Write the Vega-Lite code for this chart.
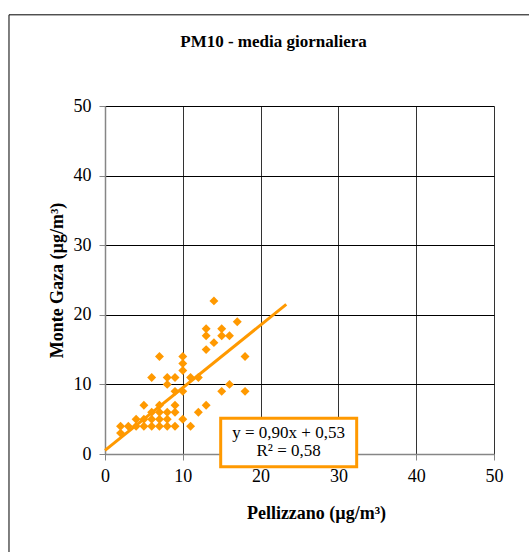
{
  "$schema": "https://vega.github.io/schema/vega-lite/v6.json",
  "width": 389,
  "height": 348,
  "autosize": {"type": "none"},
  "padding": {"left": 105, "top": 106, "right": 35, "bottom": 98},
  "background": "white",
  "title": {
    "text": "PM10 - media giornaliera",
    "font": "Liberation Serif",
    "fontSize": 17,
    "fontWeight": "bold",
    "color": "black",
    "anchor": "middle",
    "dx": -26,
    "offset": -37
  },
  "config": {
    "view": {"stroke": null},
    "axis": {
      "labelFont": "Liberation Serif",
      "labelFontSize": 18,
      "labelColor": "black",
      "labelFlush": false,
      "titleFont": "Liberation Serif",
      "titleFontSize": 18,
      "titleFontWeight": "bold",
      "titleColor": "black",
      "domainColor": "#868686",
      "domainWidth": 1.5,
      "tickColor": "#868686",
      "tickSize": 6,
      "grid": true,
      "gridOpacity": 1
    }
  },
  "datasets": {
    "frame": [{"x1": -12.34, "x2": 60, "y1": 63.1, "y2": -20}],
    "points": [
      {"pellizzano": 14, "montegaza": 22}, {"pellizzano": 17, "montegaza": 19},
      {"pellizzano": 13, "montegaza": 18}, {"pellizzano": 13, "montegaza": 17},
      {"pellizzano": 15, "montegaza": 18}, {"pellizzano": 15, "montegaza": 17},
      {"pellizzano": 16, "montegaza": 17}, {"pellizzano": 14, "montegaza": 16},
      {"pellizzano": 13, "montegaza": 15}, {"pellizzano": 18, "montegaza": 14},
      {"pellizzano": 7, "montegaza": 14}, {"pellizzano": 10, "montegaza": 14},
      {"pellizzano": 10, "montegaza": 13}, {"pellizzano": 10, "montegaza": 12},
      {"pellizzano": 6, "montegaza": 11}, {"pellizzano": 8, "montegaza": 11},
      {"pellizzano": 9, "montegaza": 11}, {"pellizzano": 11, "montegaza": 11},
      {"pellizzano": 12, "montegaza": 11}, {"pellizzano": 8, "montegaza": 10},
      {"pellizzano": 9, "montegaza": 9}, {"pellizzano": 10, "montegaza": 9},
      {"pellizzano": 15, "montegaza": 9}, {"pellizzano": 16, "montegaza": 10},
      {"pellizzano": 18, "montegaza": 9}, {"pellizzano": 13, "montegaza": 7},
      {"pellizzano": 12, "montegaza": 6}, {"pellizzano": 11, "montegaza": 4},
      {"pellizzano": 10, "montegaza": 5}, {"pellizzano": 5, "montegaza": 7},
      {"pellizzano": 7, "montegaza": 7}, {"pellizzano": 9, "montegaza": 7},
      {"pellizzano": 6, "montegaza": 6}, {"pellizzano": 7, "montegaza": 6},
      {"pellizzano": 8, "montegaza": 6}, {"pellizzano": 9, "montegaza": 6},
      {"pellizzano": 4, "montegaza": 5}, {"pellizzano": 5, "montegaza": 5},
      {"pellizzano": 6, "montegaza": 5}, {"pellizzano": 7, "montegaza": 5},
      {"pellizzano": 8, "montegaza": 5}, {"pellizzano": 2, "montegaza": 4},
      {"pellizzano": 3, "montegaza": 4}, {"pellizzano": 4, "montegaza": 4},
      {"pellizzano": 5, "montegaza": 4}, {"pellizzano": 6, "montegaza": 4},
      {"pellizzano": 7, "montegaza": 4}, {"pellizzano": 8, "montegaza": 4},
      {"pellizzano": 9, "montegaza": 4}, {"pellizzano": 2, "montegaza": 3}
    ],
    "trend": [
      {"pellizzano": 0, "montegaza": 0.53},
      {"pellizzano": 23.3, "montegaza": 21.5}
    ],
    "box": [{"x1": 14.87, "x2": 32.35, "y1": 5.13, "y2": -1.82}],
    "labels": [
      {"pellizzano": 23.6, "montegaza": 3.0, "text": "y = 0,90x + 0,53"},
      {"pellizzano": 23.6, "montegaza": 0.43, "text": "R² = 0,58"}
    ]
  },
  "layer": [
    {
      "data": {"name": "points"},
      "mark": {"type": "point", "shape": "diamond", "filled": true, "size": 80, "color": "#FF9900", "opacity": 1},
      "encoding": {
        "x": {
          "field": "pellizzano", "type": "quantitative",
          "scale": {"domain": [0, 50], "nice": false},
          "axis": {
            "title": "Pellizzano (µg/m³)",
            "values": [0, 10, 20, 30, 40, 50],
            "gridColor": "#333333",
            "labelPadding": 7,
            "titlePadding": 19,
            "titleX": 211,
            "titleAlign": "center"
          }
        },
        "y": {
          "field": "montegaza", "type": "quantitative",
          "scale": {"domain": [0, 50], "nice": false},
          "axis": {
            "title": "Monte Gaza (µg/m³)",
            "values": [0, 10, 20, 30, 40, 50],
            "gridColor": "black",
            "labelPadding": 8,
            "titlePadding": 7
          }
        }
      }
    },
    {
      "data": {"name": "trend"},
      "mark": {"type": "line", "color": "#FF9900", "strokeWidth": 3},
      "encoding": {
        "x": {"field": "pellizzano", "type": "quantitative"},
        "y": {"field": "montegaza", "type": "quantitative"}
      }
    },
    {
      "data": {"name": "box"},
      "mark": {"type": "rect", "fill": "white", "stroke": "#FF9900", "strokeWidth": 3, "clip": false},
      "encoding": {
        "x": {"field": "x1", "type": "quantitative"},
        "x2": {"field": "x2"},
        "y": {"field": "y1", "type": "quantitative"},
        "y2": {"field": "y2"}
      }
    },
    {
      "data": {"name": "labels"},
      "mark": {"type": "text", "font": "Liberation Serif", "fontSize": 17, "color": "black", "align": "center", "baseline": "middle"},
      "encoding": {
        "x": {"field": "pellizzano", "type": "quantitative"},
        "y": {"field": "montegaza", "type": "quantitative"},
        "text": {"field": "text"}
      }
    },
    {
      "data": {"name": "frame"},
      "mark": {"type": "rect", "fill": null, "fillOpacity": 0, "stroke": "black", "strokeWidth": 1, "clip": false},
      "encoding": {
        "x": {"field": "x1", "type": "quantitative"},
        "x2": {"field": "x2"},
        "y": {"field": "y1", "type": "quantitative"},
        "y2": {"field": "y2"}
      }
    }
  ]
}
